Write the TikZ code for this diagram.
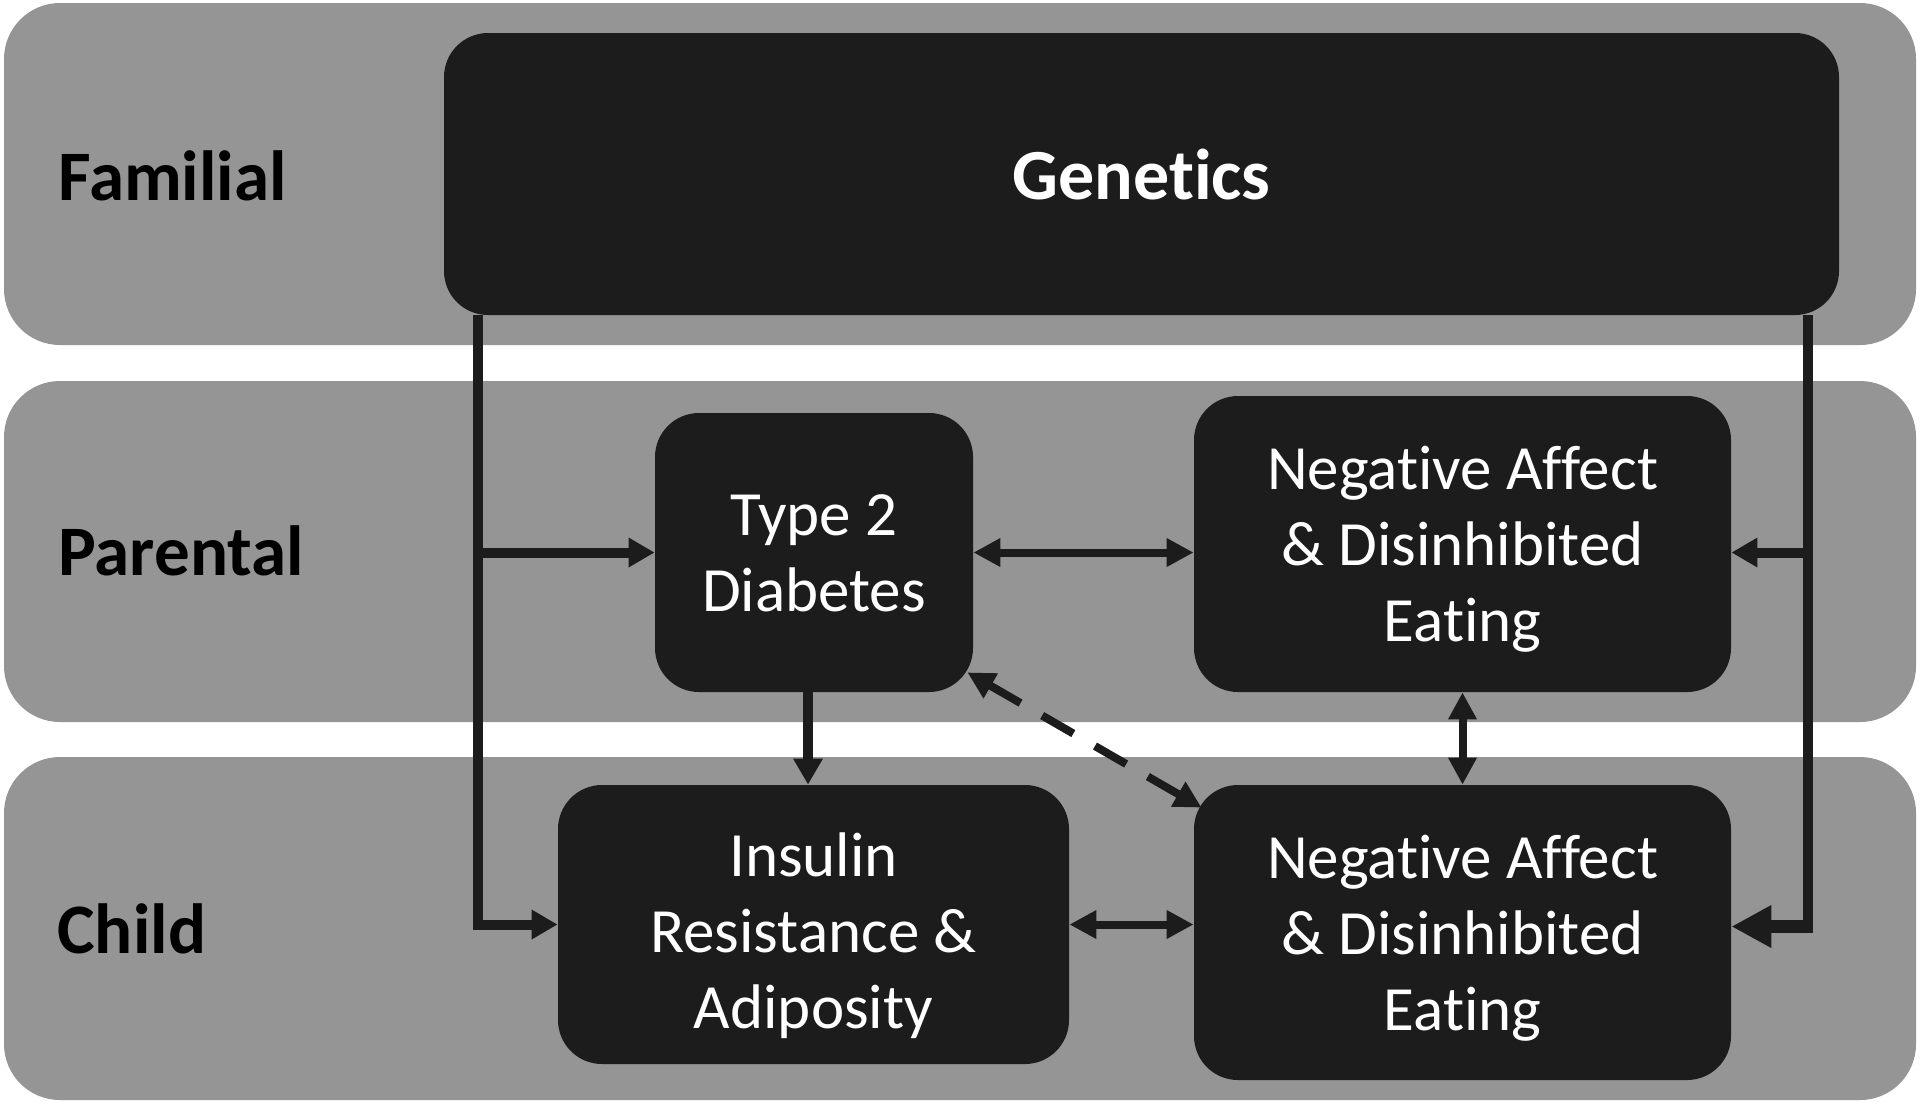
\documentclass[tikz,border=0pt]{standalone}
\usepackage{fontspec}
\setmainfont{Carlito}[RawFeature=-liga]
\usetikzlibrary{arrows.meta,calc}
\definecolor{bandgray}{RGB}{149,149,149}
\definecolor{boxblack}{RGB}{28,28,28}
\begin{document}
\begin{tikzpicture}[x=0.5pt,y=-0.5pt,
  band/.style={fill=bandgray, draw=none, rounded corners=28pt},
  box/.style={fill=boxblack, draw=none, rounded corners=22pt, inner sep=0pt},
  boxtext/.style={text=white, align=center, font=\fontsize{31.5}{38}\selectfont, inner sep=0pt},
  lbl/.style={anchor=base west, font=\fontsize{35.5}{40}\selectfont\bfseries, inner sep=0pt, text=black},
  conn/.style={line width=5pt, draw=boxblack},
  tip/.style={-{Triangle[length=13pt,width=14pt]}},
  bigtip/.style={-{Triangle[length=20pt,width=20pt]}},
  dbl/.style={line width=4pt, draw=boxblack, {Triangle[length=13.5pt,width=13.5pt]}-{Triangle[length=13.5pt,width=13.5pt]}}
]
\fill[white] (0,0) rectangle (1920,1105);
\useasboundingbox (0,0) rectangle (1920,1105);
% bands
\fill[band] (4,3) rectangle (1916,345);
\fill[band] (4,381) rectangle (1916,722);
\fill[band] (4,757) rectangle (1916,1100);
% labels
\node[lbl] (lfam) at (58,200) {Familial};
\node[lbl] (lpar) at (58,575) {Parental};
\node[lbl] (lchi) at (57,953) {Child};
% boxes
\node[box, minimum width=697.5pt, minimum height=141pt, text=white, font=\fontsize{36}{40}\selectfont\bfseries] (gen) at (1141.5,174) {Genetics};
\node[box, minimum width=159pt, minimum height=139.5pt] (t2d) at (814,552.5) {};
\node[box, minimum width=268.5pt, minimum height=148pt] (nap) at (1462.5,544) {};
\node[box, minimum width=255.5pt, minimum height=139.5pt] (ins) at (813.5,924.5) {};
\node[box, minimum width=268.5pt, minimum height=147.5pt] (nac) at (1462.5,932.5) {};
% box texts
\node[boxtext] (t2dt) at ($(t2d.center)+(0,1)$) {Type 2\\Diabetes};
\node[boxtext] (napt) at ($(nap.center)+(0,5)$) {Negative Affect\\\& Disinhibited\\Eating};
\node[boxtext] (inst) at ($(ins.center)+(0,11)$) {Insulin\\Resistance \&\\Adiposity};
\node[boxtext] (nact) at ($(nac.center)+(0,6)$) {Negative Affect\\\& Disinhibited\\Eating};
% left genetics line
\coordinate (lt) at ($(gen.south west)+(34,0)$);
\coordinate (lb) at (lt |- ins.west);
\coordinate (lm) at (lt |- t2d.west);
\draw[conn, tip] (lt) -- (lb) -- (ins.west);
\draw[conn, tip] (lm) -- (t2d.west);
% right genetics line
\coordinate (rt) at ($(gen.south east)+(-31,0)$);
\coordinate (rb) at ($(rt |- nac.east)+(0,-6)$);
\coordinate (rbe) at ($(nac.east)+(0,-6)$);
\coordinate (rm) at (rt |- t2d.east);
\draw[conn] (rt) -- ($(rb)+(0,6.5)$);
\draw[conn, line width=6.5pt, bigtip] ($(rb)+(5,0)$) -- (rbe);
\draw[conn, tip] (rm) -- (rm -| nap.east);
% other links
\coordinate (ds) at ($(t2d.south)+(-6,0)$);
\coordinate (de) at (ds |- ins.north);
\draw[conn, tip] (ds) -- (de);
\draw[dbl] (t2d.east) -- (t2d.east -| nap.west);
\draw[dbl] (nap.south) -- (nac.north);
\draw[dbl] (ins.east) -- (ins.east -| nac.west);
\coordinate (da) at ($(t2d.south east)+(-6,-20)$);
\coordinate (db) at ($(nac.north west)+(8,23)$);
\draw[dbl, dash pattern=on 18pt off 12.5pt] (da) -- (db);
\end{tikzpicture}
\end{document}
